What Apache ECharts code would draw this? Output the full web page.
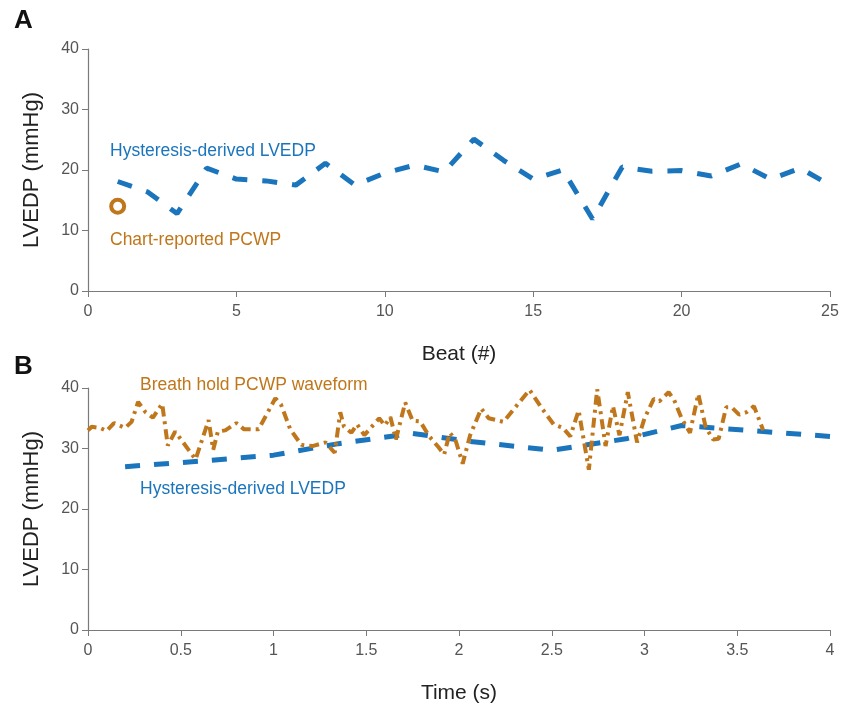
<!DOCTYPE html>
<html><head><meta charset="utf-8">
<script src="https://cdn.jsdelivr.net/npm/echarts@6/dist/echarts.min.js"></script>
<style>html,body{margin:0;padding:0;background:#fff}#c{width:843px;height:709px}</style>
</head><body><div id="c"></div>
<script>
// Panel A: beat-by-beat hysteresis-derived LVEDP
const beats = [1,2,3,4,5,6,7,8,9,10,11,12,13,14,15,16,17,18,19,20,21,22,23,24,25];
const lvedpA = [18.1,16.4,12.8,20.3,18.5,18.2,17.5,21.1,17.5,19.5,20.8,19.7,25.1,21.6,18.5,20.0,11.9,20.5,19.8,19.9,19.0,21.0,18.5,20.3,17.5];
const pcwpBeat = [1];
const pcwpValue = [14.0];
// Panel B: time series
const waveT = [0.00,0.02,0.065,0.10,0.14,0.20,0.235,0.27,0.31,0.35,0.40,0.43,0.47,0.58,0.65,0.675,0.70,0.74,0.80,0.84,0.92,1.01,1.04,1.09,1.15,1.21,1.28,1.33,1.36,1.38,1.42,1.45,1.49,1.57,1.60,1.63,1.66,1.71,1.75,1.79,1.84,1.89,1.92,1.95,1.98,2.02,2.06,2.12,2.16,2.24,2.38,2.45,2.51,2.56,2.60,2.645,2.70,2.745,2.79,2.83,2.865,2.91,2.96,3.00,3.05,3.08,3.13,3.16,3.20,3.245,3.29,3.33,3.37,3.40,3.44,3.47,3.51,3.55,3.59,3.64];
const waveV = [33.0,33.6,33.4,32.9,34.2,33.4,34.4,37.7,36.0,35.1,37.4,30.5,32.8,28.2,34.7,29.8,32.8,33.0,34.2,33.2,33.2,38.3,37.3,33.2,30.6,30.4,31.0,29.3,36.0,33.6,32.6,34.0,32.2,35.0,33.8,35.2,31.5,37.6,34.6,34.5,32.0,30.2,29.0,32.6,31.5,27.5,32.2,36.6,35.0,34.4,39.7,36.5,34.0,33.4,32.0,36.3,26.5,39.8,30.4,37.0,32.2,39.3,31.0,35.0,38.2,37.8,39.3,38.0,35.0,32.6,39.0,33.5,31.5,31.6,36.8,36.8,35.6,36.0,37.0,33.0];
const lvedpT = [0.20,0.60,1.00,1.35,1.75,2.05,2.50,2.90,3.20,3.60,4.00];
const lvedpB = [27.0,27.9,28.9,30.8,32.5,31.2,29.7,31.6,33.8,32.9,32.0];
const yTicks = [0,10,20,30,40];

const BLUE = '#1b75bc', ORANGE = '#c0761a', AX = '#7a7a7a', TXT = '#555555';
const FONT = 'Liberation Sans, Arial, sans-serif';

function xAxis(grid, min, max, interval, name, fmt) {
  return {type:'value', gridIndex:grid, min, max, interval,
    name, nameLocation:'middle', nameGap:53,
    nameTextStyle:{fontFamily:FONT, fontSize:21, color:'#222'},
    axisLine:{show:true, onZero:false, lineStyle:{color:AX, width:1.2}},
    axisTick:{show:true, length:6, lineStyle:{color:AX}},
    axisLabel:{fontFamily:FONT, fontSize:16, color:TXT, margin:13, formatter:fmt},
    splitLine:{show:false}};
}
function yAxis(grid) {
  return {type:'value', gridIndex:grid, min:yTicks[0], max:yTicks[yTicks.length-1], interval:10,
    name:'LVEDP (mmHg)', nameLocation:'middle', nameGap:45, nameRotate:90,
    nameTextStyle:{fontFamily:FONT, fontSize:22, color:'#222'},
    axisLine:{show:true, lineStyle:{color:AX, width:1.2}},
    axisTick:{show:true, length:6, lineStyle:{color:AX}},
    axisLabel:{fontFamily:FONT, fontSize:16, color:TXT, margin:9},
    splitLine:{show:false}};
}

const chart = echarts.init(document.getElementById('c'), null, {renderer:'canvas'});
chart.setOption({
  animation:false,
  backgroundColor:'#fff',
  grid:[
    {left:88, right:13, top:49, height:242},
    {left:88, right:13, top:388, height:242}
  ],
  xAxis:[
    xAxis(0, 0, 25, 5, 'Beat (#)', v => v),
    xAxis(1, 0, 4, 0.5, 'Time (s)', v => String(v))
  ],
  yAxis:[yAxis(0), yAxis(1)],
  series:[
    {type:'line', xAxisIndex:0, yAxisIndex:0, data:beats.map((b,i)=>[b,lvedpA[i]]),
     showSymbol:false, lineStyle:{color:BLUE, width:5, type:[15,15], cap:'butt'}},
    {type:'scatter', xAxisIndex:0, yAxisIndex:0, data:pcwpBeat.map((b,i)=>[b,pcwpValue[i]]),
     symbol:'circle', symbolSize:13,
     itemStyle:{color:'#fff', opacity:1, borderColor:ORANGE, borderWidth:4}},
    {type:'line', xAxisIndex:1, yAxisIndex:1, data:lvedpT.map((t,i)=>[t,lvedpB[i]]),
     showSymbol:false, lineStyle:{color:BLUE, width:5, type:[15,14], cap:'butt'}},
    {type:'line', xAxisIndex:1, yAxisIndex:1, data:waveT.map((t,i)=>[t,waveV[i]]),
     showSymbol:false, z:3, lineStyle:{color:ORANGE, width:4, type:[10,5,3,5], cap:'butt'}}
  ],
  graphic:[
    {type:'text', left:14, top:8, style:{text:'A', font:'bold 26px '+FONT, fill:'#111'}},
    {type:'text', left:14, top:354, style:{text:'B', font:'bold 26px '+FONT, fill:'#111'}},
    {type:'text', left:110, top:142, style:{text:'Hysteresis-derived LVEDP', font:'17.5px '+FONT, fill:BLUE}},
    {type:'text', left:110, top:231, style:{text:'Chart-reported PCWP', font:'17.5px '+FONT, fill:ORANGE}},
    {type:'text', left:140, top:376, style:{text:'Breath hold PCWP waveform', font:'17.5px '+FONT, fill:ORANGE}},
    {type:'text', left:140, top:480, style:{text:'Hysteresis-derived LVEDP', font:'17.5px '+FONT, fill:BLUE}}
  ]
});
</script></body></html>
